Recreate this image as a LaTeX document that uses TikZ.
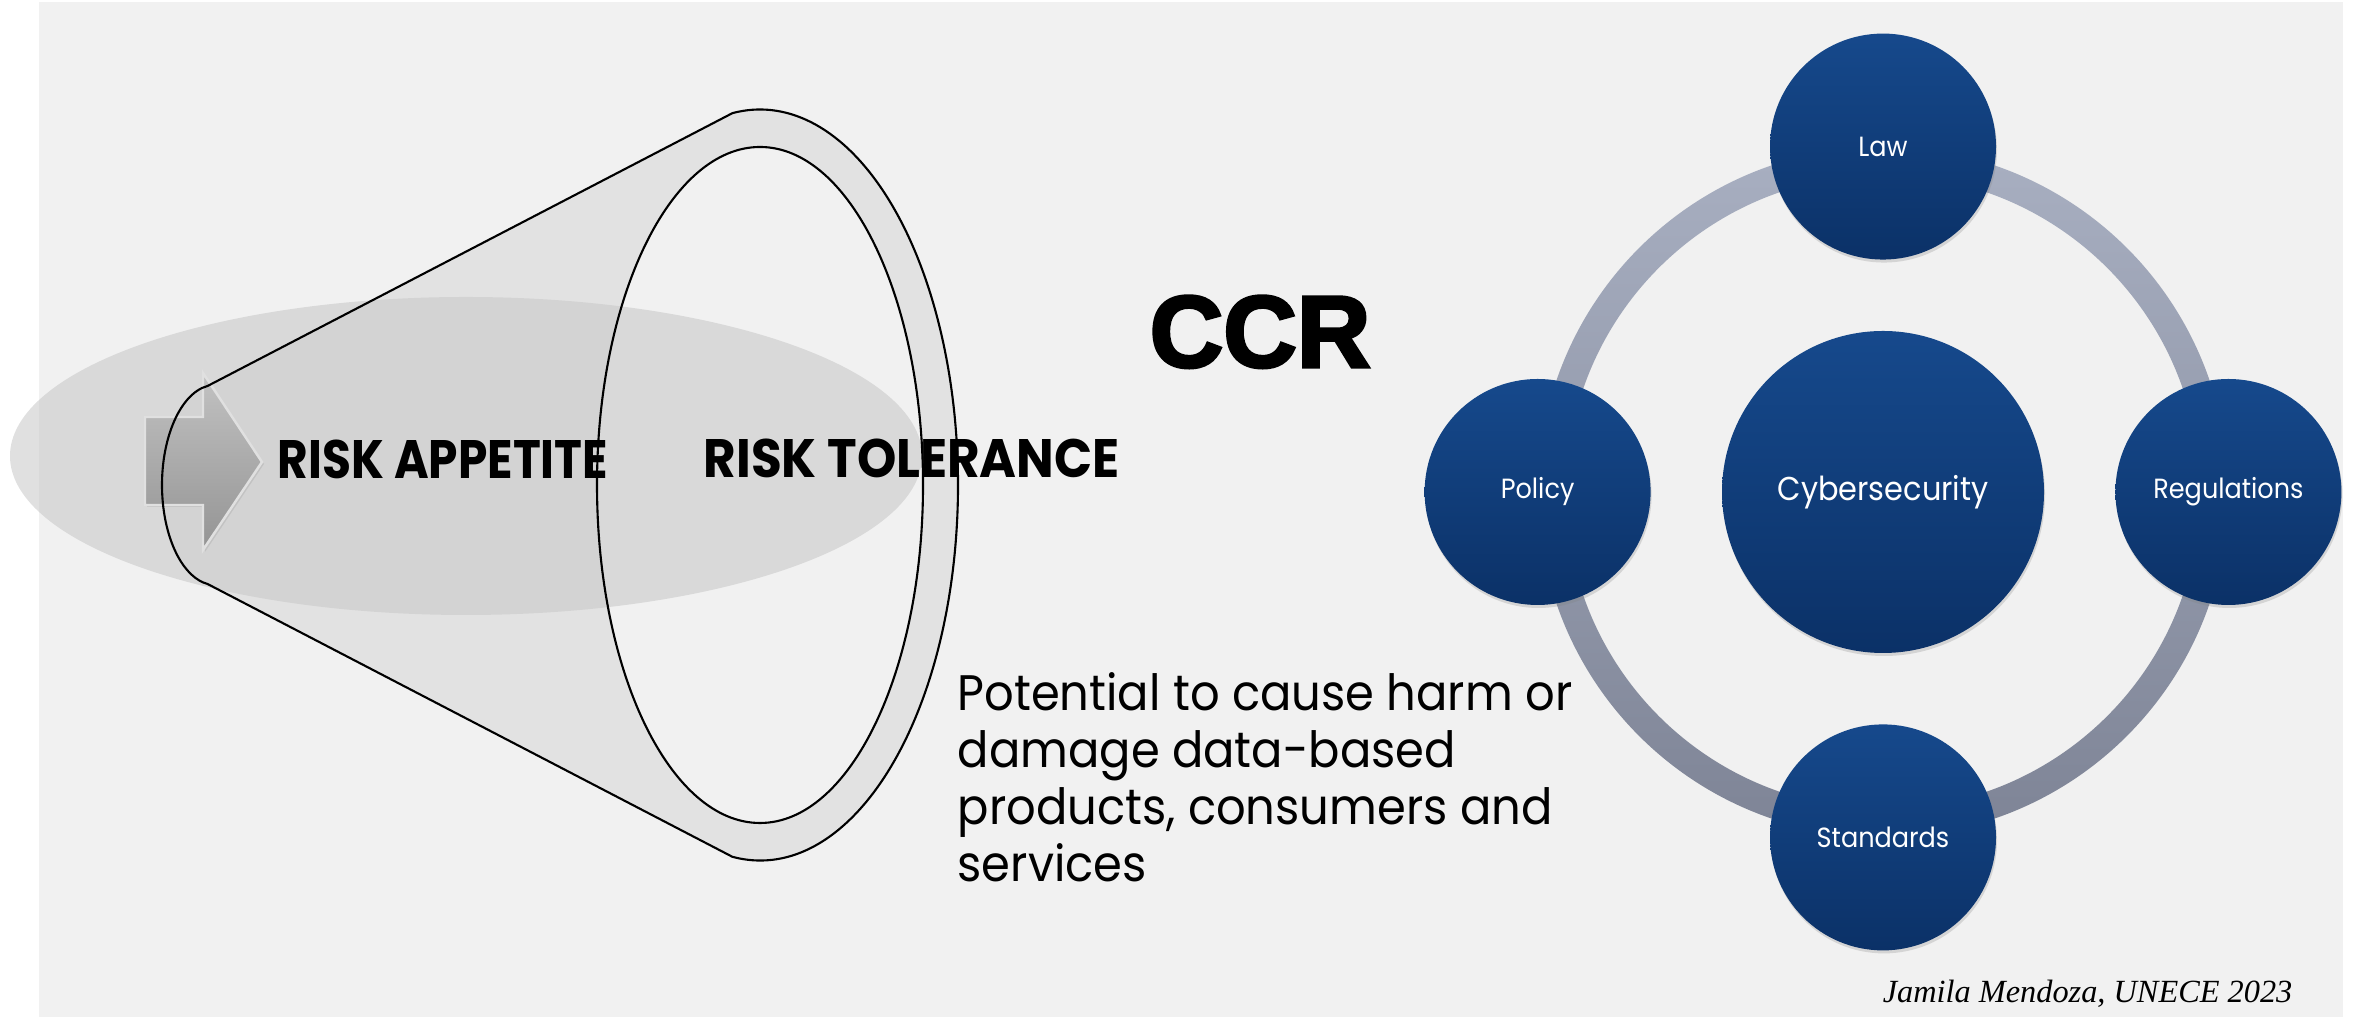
\documentclass[tikz,border=0pt]{standalone}
\usepackage{fontspec}
\setmainfont{Poppins}
\newfontfamily\bodyfont[FakeStretch=0.93]{Poppins}
\newfontfamily\discfont[FakeStretch=0.92]{Poppins}
\newfontfamily\ccrfont[FakeBold=3]{Liberation Sans Bold}
\newfontfamily\notefont{Liberation Serif}
\usetikzlibrary{shapes.geometric, arrows, positioning, calc, shadows}

\definecolor{slidebg}{RGB}{241,241,241}
\definecolor{conegray}{RGB}{226,226,226}
\definecolor{zonegray}{RGB}{200,200,200}
\definecolor{discTop}{RGB}{22,73,140}
\definecolor{discBot}{RGB}{11,49,103}
\definecolor{ringTop}{RGB}{168,175,193}
\definecolor{ringBot}{RGB}{126,132,150}

\tikzset{
  disc/.style={circle, inner sep=0pt, text=white, top color=discTop, bottom color=discBot,
    drop shadow={shadow xshift=0.01cm, shadow yshift=-0.03cm, opacity=0.25}},
  sat/.style={disc, minimum size=2.26cm, font=\discfont\fontsize{7.9}{10}\selectfont},
  hubdisc/.style={disc, minimum size=3.22cm, font=\discfont\fontsize{9.4}{12}\selectfont},
  risk/.style={anchor=base west, inner sep=0pt, font=\fontsize{15.4}{18}\selectfont\bfseries},
}

\begin{document}
\begin{tikzpicture}
\useasboundingbox (0,0) rectangle (23.59,10.17);
\fill[slidebg] (0.39,0) rectangle (23.43,10.15);

% cone body
\coordinate (smallC) at (2.15,5.32);
\coordinate (bigC) at (7.60,5.32);
\fill[conegray] ($(smallC)+(98:0.53 and 1.00)$)
  arc[start angle=98, end angle=262, x radius=0.53, y radius=1.00]
  -- ($(bigC)+(262:1.98 and 3.755)$)
  arc[start angle=262, end angle=458, x radius=1.98, y radius=3.755] -- cycle;
\fill[slidebg] (bigC) ellipse (1.63 and 3.38);

% risk zone
\fill[zonegray, opacity=0.57] (4.66,5.61) ellipse (4.56 and 1.59);

% arrow
\shade[top color=black!24, bottom color=black!42, draw=black!12, line width=0.7pt,
  drop shadow={shadow xshift=0.02cm, shadow yshift=-0.02cm, opacity=0.2}]
  (1.45,6.00) -- (2.03,6.00) -- (2.03,6.44) -- (2.62,5.55) -- (2.03,4.67)
  -- (2.03,5.12) -- (1.45,5.12) -- cycle;

% cone outline
\draw[line width=0.6pt] ($(smallC)+(98:0.53 and 1.00)$)
  arc[start angle=98, end angle=262, x radius=0.53, y radius=1.00]
  -- ($(bigC)+(262:1.98 and 3.755)$)
  arc[start angle=262, end angle=458, x radius=1.98, y radius=3.755] -- cycle;
\draw[line width=0.6pt] (bigC) ellipse (1.63 and 3.38);

\node[risk] (appetite) at (2.77,5.38) {\scalebox{0.87}[1]{RISK APPETITE}};
\node[risk] (tolerance) at (7.03,5.39) {\scalebox{0.925}[1]{RISK TOLERANCE}};

\node[anchor=base west, inner sep=0pt, font=\ccrfont\fontsize{29}{34}\selectfont] (ccr) at (11.49,6.50) {CCR};

\node[anchor=north west, inner sep=0pt, align=left, font=\bodyfont\fontsize{14.2}{16.2}\selectfont] (harm) at (9.57,3.45)
  {Potential to cause harm or\\damage data-based\\products, consumers and\\services};

% ring and discs
\coordinate (core) at (18.83,5.25);
\shade[top color=ringTop, bottom color=ringBot, even odd rule] (core) circle (3.45) (core) circle (3.17);
\node[hubdisc] (hub) at (core) {Cybersecurity};
\node[sat, above=0.70cm of hub] (law) {Law};
\node[sat, left=0.70cm of hub] (policy) {Policy};
\node[sat, right=0.70cm of hub] (regs) {Regulations};
\node[sat, below=0.70cm of hub] (standards) {Standards};

\node[anchor=base east, inner sep=0pt, font=\notefont\itshape\fontsize{9.2}{11}\selectfont] (credit) at (22.93,0.14) {Jamila Mendoza, UNECE 2023};
\end{tikzpicture}
\end{document}
